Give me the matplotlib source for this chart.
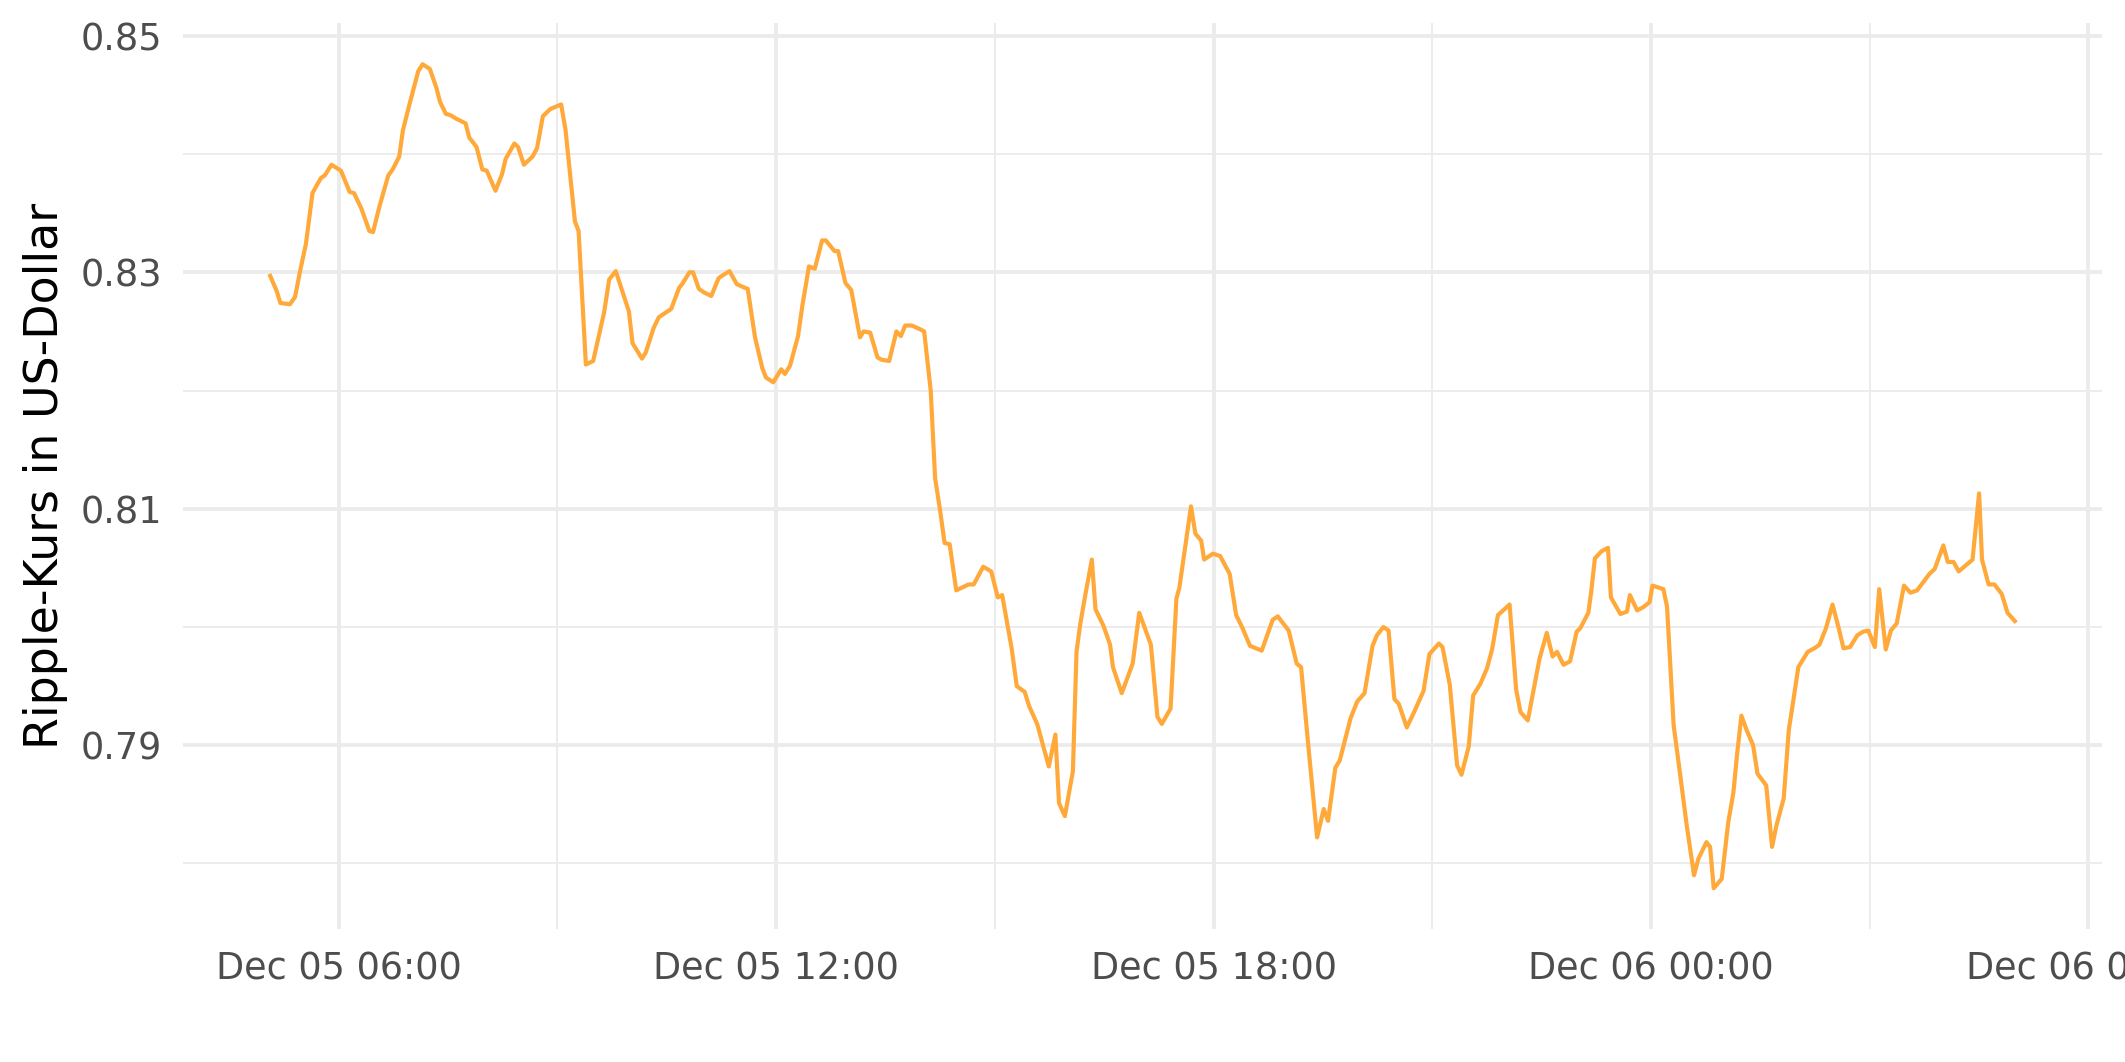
import numpy as np
import pandas as pd
import matplotlib
matplotlib.use('Agg')
import matplotlib.pyplot as plt
import matplotlib.dates as mdates

# hours after Dec 05 00:00, and XRP price in USD
hours = [
    5.06, 5.15, 5.20, 5.33, 5.40, 5.47, 5.55, 5.64, 5.72, 5.76,
    5.81, 5.90, 6.03, 6.15, 6.21, 6.31, 6.42, 6.47, 6.56, 6.68,
    6.74, 6.83, 6.88, 6.97, 7.09, 7.15, 7.25, 7.34, 7.39, 7.47,
    7.53, 7.61, 7.74, 7.79, 7.89, 7.97, 8.03, 8.15, 8.24, 8.29,
    8.41, 8.46, 8.54, 8.66, 8.72, 8.80, 8.90, 9.05, 9.11, 9.24,
    9.29, 9.39, 9.49, 9.64, 9.71, 9.80, 9.98, 10.03, 10.16, 10.21,
    10.32, 10.39, 10.51, 10.56, 10.67,
    10.71, 10.81, 10.86, 10.94, 11.01, 11.11, 11.21, 11.28, 11.36, 11.46,
    11.53, 11.61, 11.71, 11.81, 11.86, 11.96, 12.07, 12.12, 12.19, 12.30,
    12.36, 12.45, 12.53, 12.63, 12.68, 12.80, 12.85, 12.95, 13.03, 13.15,
    13.20, 13.29, 13.39, 13.45, 13.55, 13.65, 13.71, 13.77, 13.86, 13.97,
    14.03, 14.12, 14.18, 14.25, 14.31, 14.38, 14.47, 14.64, 14.71, 14.84,
    14.95, 15.04, 15.10,
    15.23, 15.30, 15.41, 15.47, 15.58, 15.66, 15.74, 15.83, 15.88, 15.96,
    16.07, 16.12, 16.17, 16.24, 16.33, 16.38, 16.49, 16.58, 16.62,
    16.74, 16.89, 16.98, 17.14, 17.23, 17.29, 17.41, 17.49, 17.53, 17.69,
    17.75, 17.83, 17.87, 17.99, 18.09, 18.22, 18.31, 18.39, 18.50, 18.66,
    18.81, 18.88, 19.03, 19.14, 19.20, 19.30, 19.42, 19.51, 19.57, 19.67,
    19.73, 19.88, 19.97, 20.07, 20.18, 20.24, 20.33, 20.40, 20.48, 20.54,
    20.65, 20.75, 20.88, 20.96, 21.09, 21.14, 21.24, 21.34, 21.40, 21.50,
    21.56, 21.66, 21.75, 21.82, 21.90, 22.06, 22.15, 22.21, 22.31, 22.47,
    22.57,
    22.65, 22.71, 22.80, 22.89, 22.98, 23.03, 23.14, 23.18, 23.23, 23.32,
    23.41, 23.45, 23.58, 23.67, 23.71, 23.81, 23.90, 23.98, 24.02, 24.17,
    24.22, 24.31, 24.40, 24.49, 24.59, 24.65, 24.76, 24.81, 24.86, 24.97,
    25.06, 25.13, 25.18, 25.24, 25.31, 25.40, 25.46, 25.58, 25.66, 25.72,
    25.82, 25.89, 25.95, 26.02, 26.15, 26.24, 26.31, 26.40, 26.49, 26.57,
    26.64, 26.73, 26.83, 26.91, 26.98, 27.07, 27.13, 27.22, 27.29, 27.37,
    27.47, 27.56, 27.65, 27.82, 27.89, 28.01, 28.07, 28.15, 28.22, 28.41,
    28.50, 28.54, 28.63, 28.71, 28.81, 28.89, 28.99,
]
price = [
    0.8297, 0.8284, 0.8274, 0.8273, 0.8279, 0.8301, 0.8324, 0.8367, 0.8376, 0.8380,
    0.8382, 0.8391, 0.8386, 0.8368, 0.8367, 0.8354, 0.8335, 0.8334, 0.8356, 0.8382,
    0.8387, 0.8398, 0.8420, 0.8442, 0.8470, 0.8476, 0.8472, 0.8456, 0.8444, 0.8434,
    0.8433, 0.8430, 0.8426, 0.8414, 0.8406, 0.8387, 0.8386, 0.8369, 0.8383, 0.8396,
    0.8409, 0.8406, 0.8391, 0.8398, 0.8405, 0.8432, 0.8438, 0.8442, 0.8421, 0.8343,
    0.8335, 0.8222, 0.8225, 0.8266, 0.8294, 0.8301, 0.8267, 0.8240, 0.8227, 0.8232,
    0.8253, 0.8262, 0.8267, 0.8269, 0.8287,
    0.8290, 0.8300, 0.8300, 0.8286, 0.8283, 0.8280, 0.8295, 0.8298, 0.8301, 0.8290,
    0.8288, 0.8286, 0.8245, 0.8219, 0.8211, 0.8207, 0.8218, 0.8214, 0.8221, 0.8246,
    0.8272, 0.8305, 0.8303, 0.8327, 0.8327, 0.8318, 0.8318, 0.8291, 0.8285, 0.8245,
    0.8250, 0.8249, 0.8228, 0.8226, 0.8225, 0.8250, 0.8246, 0.8255, 0.8255, 0.8252,
    0.8250, 0.8200, 0.8126, 0.8098, 0.8071, 0.8070, 0.8031, 0.8036, 0.8036, 0.8051,
    0.8047, 0.8025, 0.8027,
    0.7982, 0.7950, 0.7945, 0.7933, 0.7918, 0.7900, 0.7882, 0.7909, 0.7851, 0.7840,
    0.7878, 0.7979, 0.8002, 0.8027, 0.8057, 0.8015, 0.8001, 0.7985, 0.7966,
    0.7944, 0.7969, 0.8012, 0.7985, 0.7924, 0.7918, 0.7931, 0.8024, 0.8033, 0.8102,
    0.8079, 0.8073, 0.8057, 0.8062, 0.8060, 0.8045, 0.8010, 0.8000, 0.7984, 0.7980,
    0.8006, 0.8009, 0.7997, 0.7969, 0.7966, 0.7899, 0.7822, 0.7846, 0.7836, 0.7881,
    0.7887, 0.7923, 0.7937, 0.7944, 0.7984, 0.7993, 0.8000, 0.7997, 0.7939, 0.7935,
    0.7915, 0.7928, 0.7946, 0.7977, 0.7986, 0.7983, 0.7951, 0.7883, 0.7875, 0.7899,
    0.7942, 0.7952, 0.7965, 0.7981, 0.8010, 0.8019, 0.7947, 0.7928, 0.7921, 0.7973,
    0.7995,
    0.7975, 0.7979, 0.7968, 0.7971, 0.7996, 0.7999, 0.8012, 0.8030, 0.8058, 0.8064,
    0.8067, 0.8025, 0.8011, 0.8013, 0.8027, 0.8014, 0.8017, 0.8021, 0.8035, 0.8032,
    0.8017, 0.7917, 0.7875, 0.7832, 0.7790, 0.7804, 0.7818, 0.7814, 0.7779, 0.7787,
    0.7835, 0.7860, 0.7892, 0.7925, 0.7913, 0.7900, 0.7876, 0.7866, 0.7814, 0.7832,
    0.7855, 0.7913, 0.7937, 0.7966, 0.7979, 0.7982, 0.7985, 0.7999, 0.8019, 0.8000,
    0.7982, 0.7983, 0.7993, 0.7996, 0.7997, 0.7983, 0.8032, 0.7981, 0.7997, 0.8003,
    0.8035, 0.8029, 0.8031, 0.8045, 0.8049, 0.8069, 0.8055, 0.8055, 0.8047, 0.8057,
    0.8113, 0.8057, 0.8036, 0.8036, 0.8028, 0.8012, 0.8005,
]
y_major = [0.79, 0.81, 0.83, 0.85]
y_minor = [0.78, 0.80, 0.82, 0.84]

times = pd.Timestamp('2021-12-05') + pd.to_timedelta(np.array(hours), unit='h')

fig = plt.figure(figsize=(2125 / 300, 1062 / 300), dpi=300)
ax = fig.add_axes([0.0861, 0.1248, 0.9031, 0.8535])

ax.plot(times, price, color='#FFA93A', lw=1.0)
ax.margins(x=0.05, y=0.05)

ax.xaxis.set_major_locator(mdates.HourLocator(byhour=[0, 6, 12, 18]))
ax.xaxis.set_minor_locator(mdates.HourLocator(byhour=[3, 9, 15, 21]))
ax.xaxis.set_major_formatter(mdates.DateFormatter('%b %d %H:%M'))
ax.set_yticks(y_major)
ax.set_yticks(y_minor, minor=True)
ax.set_yticklabels([f'{v:.2f}' for v in y_major])

ax.grid(which='major', color='#EBEBEB', lw=0.9)
ax.grid(which='minor', color='#EBEBEB', lw=0.45)
ax.set_axisbelow(True)
for s in ax.spines.values():
    s.set_visible(False)
ax.tick_params(which='both', length=0, labelsize=8.8, labelcolor='#4D4D4D', pad=5)

ax.set_ylabel('Ripple-Kurs in US-Dollar', fontsize=11, labelpad=3)

fig.savefig('out.png', dpi=300)
